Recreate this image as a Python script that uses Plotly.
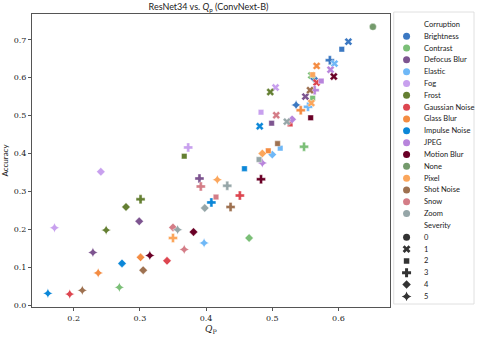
import plotly.graph_objects as go

# --------------------------------------------------
# Data: (Q_P, accuracy) for severities 1..5
# --------------------------------------------------

corruptions = [
    "Brightness", "Contrast", "Defocus Blur", "Elastic", "Fog", "Frost",
    "Gaussian Noise", "Glass Blur", "Impulse Noise", "JPEG", "Motion Blur",
    "None", "Pixel", "Shot Noise", "Snow", "Zoom",
]

colors = [
    "#3b78c2", "#7bbf77", "#7d5490", "#6fb8f7", "#c8a0ee", "#647f32",
    "#dd4650", "#f48c42", "#0b87d8", "#b884dc", "#6a0026",
    "#749a6c", "#fba65c", "#9e7150", "#d47d87", "#96a6a8",
]

severities = [0, 1, 2, 3, 4, 5]

brightness_qp = [0.615, 0.605, 0.587, 0.563, 0.536]
brightness_acc = [0.695, 0.675, 0.646, 0.598, 0.528]
contrast_qp = [0.559, 0.561, 0.548, 0.465, 0.269]
contrast_acc = [0.606, 0.546, 0.418, 0.177, 0.047]
defocus_qp = [0.550, 0.499, 0.390, 0.299, 0.229]
defocus_acc = [0.550, 0.480, 0.334, 0.221, 0.139]
elastic_qp = [0.594, 0.512, 0.554, 0.500, 0.397]
elastic_acc = [0.637, 0.414, 0.523, 0.397, 0.164]
fog_qp = [0.505, 0.483, 0.373, 0.241, 0.171]
fog_acc = [0.574, 0.509, 0.416, 0.352, 0.204]
frost_qp = [0.497, 0.367, 0.301, 0.279, 0.249]
frost_acc = [0.562, 0.393, 0.279, 0.259, 0.198]
gaussian_qp = [0.567, 0.527, 0.451, 0.341, 0.194]
gaussian_acc = [0.587, 0.478, 0.289, 0.117, 0.029]
glass_qp = [0.567, 0.494, 0.543, 0.301, 0.237]
glass_acc = [0.631, 0.407, 0.514, 0.126, 0.085]
impulse_qp = [0.481, 0.458, 0.408, 0.273, 0.161]
impulse_acc = [0.472, 0.360, 0.271, 0.110, 0.031]
jpeg_qp = [0.588, 0.574, 0.564, 0.530, 0.485]
jpeg_acc = [0.621, 0.591, 0.567, 0.490, 0.375]
motion_qp = [0.593, 0.558, 0.483, 0.381, 0.315]
motion_acc = [0.603, 0.494, 0.332, 0.193, 0.131]
none_qp = [0.652]
none_acc = [0.734]
pixel_qp = [0.559, 0.561, 0.350, 0.485, 0.417]
pixel_acc = [0.533, 0.608, 0.177, 0.400, 0.331]
shot_qp = [0.557, 0.508, 0.437, 0.305, 0.213]
shot_acc = [0.567, 0.426, 0.259, 0.092, 0.039]
snow_qp = [0.506, 0.415, 0.392, 0.350, 0.367]
snow_acc = [0.501, 0.285, 0.313, 0.205, 0.147]
zoom_qp = [0.522, 0.480, 0.432, 0.398, 0.357]
zoom_acc = [0.484, 0.384, 0.315, 0.256, 0.199]

series = [
    (brightness_qp, brightness_acc), (contrast_qp, contrast_acc),
    (defocus_qp, defocus_acc), (elastic_qp, elastic_acc),
    (fog_qp, fog_acc), (frost_qp, frost_acc),
    (gaussian_qp, gaussian_acc), (glass_qp, glass_acc),
    (impulse_qp, impulse_acc), (jpeg_qp, jpeg_acc),
    (motion_qp, motion_acc), (none_qp, none_acc),
    (pixel_qp, pixel_acc), (shot_qp, shot_acc),
    (snow_qp, snow_acc), (zoom_qp, zoom_acc),
]

# seaborn-like style markers per severity
symbols = ["circle", "x", "square", "cross", "diamond", "star-diamond"]
sizes = [7, 7, 5.5, 7.5, 6.5, 7]

W, H = 478, 337
ML, MR, MT, MB = 28, 4, 12, 27
PW = W - ML - MR
PH = H - MT - MB
main_dom_x = [0, (389 - ML) / PW]
main_dom_y = [0, (310 - 14) / PH]
leg_dom_x = [(393 - ML) / PW, 1.0]
leg_dom_y = [(H - MB - 307) / PH, 1.0]

fig = go.Figure()

for name, color, (qp, acc) in zip(corruptions, colors, series):
    sev = [0] if name == "None" else severities[1:]
    fig.add_trace(go.Scatter(
        x=qp, y=acc, mode="markers", name=name, showlegend=False,
        marker=dict(
            color=color, opacity=1,
            symbol=[symbols[s] for s in sev],
            size=[sizes[s] for s in sev],
            line=dict(color="white", width=0.4),
        ),
    ))

# --------------------------------------------------
# Legend (drawn by hand on its own axes)
# --------------------------------------------------

leg_labels = ["Corruption"] + corruptions + ["Severity"] + [str(s) for s in severities]
n_items = len(leg_labels)
leg_y = list(range(n_items))
leg_colors = ["rgba(0,0,0,0)"] + colors + ["rgba(0,0,0,0)"] + ["#333333"] * len(severities)
leg_symbols = ["circle"] * (len(corruptions) + 2) + symbols
leg_sizes = [7] * (len(corruptions) + 2) + sizes

fig.add_trace(go.Scatter(
    x=[0.16] * n_items, y=leg_y, mode="markers", showlegend=False,
    xaxis="x2", yaxis="y2", hoverinfo="skip",
    marker=dict(color=leg_colors, symbol=leg_symbols, size=leg_sizes,
                opacity=1, line=dict(width=0)),
))

for i, lab in enumerate(leg_labels):
    fig.add_annotation(
        x=0.35, y=i, xref="x2", yref="y2", text=lab, showarrow=False,
        xanchor="left", yanchor="middle",
        font=dict(family="Lato", size=7.5, color="#222222"),
    )

fig.add_shape(
    type="rect", xref="x2 domain", yref="y2 domain",
    x0=0, x1=1, y0=0, y1=1,
    line=dict(color="#d8d8d8", width=0.8), fillcolor="rgba(0,0,0,0)",
    layer="above",
)

tick_font = dict(family="DejaVu Serif", size=8, color="#222222")

fig.update_layout(
    width=W, height=H,
    margin=dict(l=ML, r=MR, t=MT, b=MB),
    plot_bgcolor="white", paper_bgcolor="white",
    title=dict(
        text="ResNet34 vs. <i>Q</i><sub>p</sub> (ConvNext-B)",
        x=(main_dom_x[1] / 2) * PW / W + ML / W, xanchor="center",
        y=1 - 7 / H, yanchor="middle",
        font=dict(family="Lato", size=9, color="#222222"),
    ),
    xaxis=dict(
        domain=main_dom_x, range=[0.137, 0.6775],
        tickvals=[0.2, 0.3, 0.4, 0.5, 0.6], tickformat=".1f",
        showgrid=False, zeroline=False,
        showline=True, linecolor="#555555", linewidth=1, mirror=True,
        ticks="outside", ticklen=3, tickcolor="#555555",
        tickfont=tick_font,
        title=dict(text="<i>Q</i><sub>P</sub>", standoff=4,
                   font=dict(family="DejaVu Serif", size=9, color="#222222")),
    ),
    yaxis=dict(
        domain=main_dom_y, range=[-0.005, 0.768],
        tickvals=[0, 0.1, 0.2, 0.3, 0.4, 0.5, 0.6, 0.7], tickformat=".1f",
        showgrid=False, zeroline=False,
        showline=True, linecolor="#555555", linewidth=1, mirror=True,
        ticks="outside", ticklen=3, tickcolor="#555555",
        tickfont=tick_font,
        title=dict(text="Accuracy", standoff=4,
                   font=dict(family="Lato", size=8, color="#222222")),
    ),
    xaxis2=dict(domain=leg_dom_x, range=[0, 1], visible=False, anchor="y2"),
    yaxis2=dict(domain=leg_dom_y, range=[n_items - 1 + 8 / 12.45, -13 / 12.45],
                visible=False, anchor="x2"),
)

fig.write_html(
    "out.html",
    config={"displayModeBar": False},
    post_script="document.body.style.margin='0px';",
)
